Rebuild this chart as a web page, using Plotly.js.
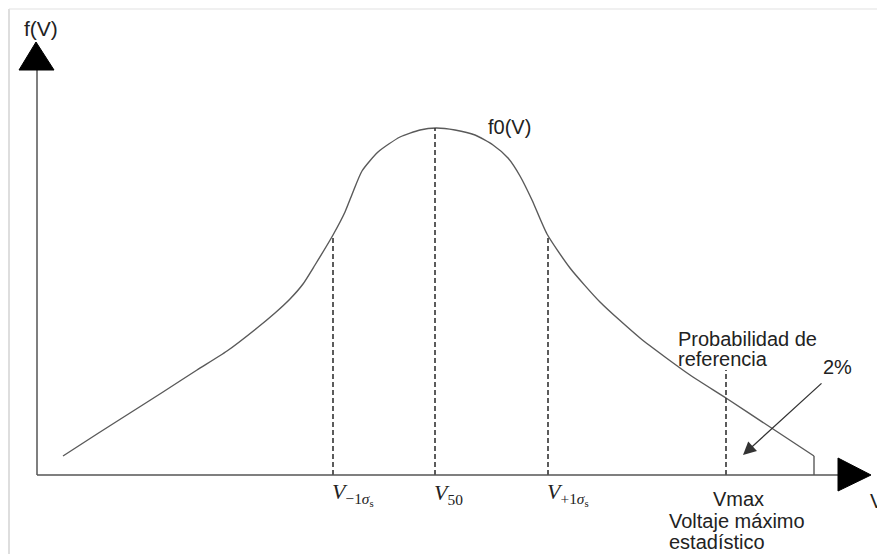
<!DOCTYPE html>
<html>
<head>
<meta charset="utf-8">
<script src="https://cdn.plot.ly/plotly-3.0.1.min.js"></script>
<style>html,body{margin:0;padding:0;background:#fff;}#chart{width:877px;height:554px;}</style>
</head>
<body>
<div id="chart"></div>
<script>
// Curve f0(V) (V and f in drawing units; origin at the axes' corner)
const curveV = [26, 60, 93, 126, 160, 190, 220, 238, 253, 266, 278, 296, 308, 316, 325, 341, 363, 383, 399, 418, 438, 456, 471, 483, 495, 510, 533, 563, 603, 653, 689, 733, 777];
const curveF = [19, 41, 62, 83, 105, 124, 147, 162, 176, 191, 210, 240, 263, 283, 304, 323, 338, 345, 347, 345, 340, 330, 317, 299, 275, 241, 207, 173, 137, 100, 77, 48, 19];
// vertical drop at the end of the curve
const tailV = [777, 777];
const tailF = [19, 0];
// reference voltages (dashed lines) and the height each dashed line reaches
const refV = [296, 398, 511, 689];
const refTop = [240, 347, 239, 105];
const refLabels = ["<i>V</i><sub>−1<i>σ</i><sub>s</sub></sub>", "<i>V</i><sub>50</sub>", "<i>V</i><sub>+1<i>σ</i><sub>s</sub></sub>"];
const axisLenV = 801, axisLenF = 405;

const traces = [];
traces.push({x: curveV, y: curveF, mode: 'lines', line: {color: '#5a5a5a', width: 1.4, shape: 'spline', smoothing: 0.6}, hoverinfo: 'skip'});
traces.push({x: tailV, y: tailF, mode: 'lines', line: {color: '#5a5a5a', width: 1.4}, hoverinfo: 'skip'});
refV.forEach((v, i) => {
  traces.push({x: [v, v], y: [0, refTop[i]], mode: 'lines', line: {color: '#333', width: 1.6, dash: '5px,3px'}, hoverinfo: 'skip'});
});

const shapes = [
  // frame of the picture
  {type: 'line', xref: 'x', yref: 'y', x0: -28, y0: 466, x1: -28, y1: -80, line: {color: '#c8c8c8', width: 1.2}},
  {type: 'line', xref: 'x', yref: 'y', x0: -28, y0: 466, x1: 841, y1: 466, line: {color: '#e2e2e2', width: 1.2}},
  // axes
  {type: 'line', xref: 'x', yref: 'y', x0: 0, y0: 0, x1: 0, y1: axisLenF, line: {color: '#555', width: 1.5}},
  {type: 'line', xref: 'x', yref: 'y', x0: 0, y0: 0, x1: axisLenV, y1: 0, line: {color: '#555', width: 1.5}},
  // arrowheads
  {type: 'path', xref: 'x', yref: 'y', path: 'M -18 405 L 17 405 L -1 433 Z', fillcolor: '#000', line: {color: '#000', width: 1}},
  {type: 'path', xref: 'x', yref: 'y', path: 'M 801 17 L 801 -16 L 834 0 Z', fillcolor: '#000', line: {color: '#000', width: 1}}
];

const txt = '#222';
const sans = 'Liberation Sans, Arial, sans-serif';
const fs = 20;
const annotations = [
  {x: 4, y: 447, text: 'f(V)', showarrow: false, xanchor: 'center', yanchor: 'middle', font: {family: sans, size: 21, color: txt}},
  {x: 449, y: 348, text: 'f0(V)', showarrow: false, xanchor: 'left', yanchor: 'middle', font: {family: sans, size: fs, color: txt}},
  {x: 831, y: -26, text: 'V', showarrow: false, xanchor: 'left', yanchor: 'middle', font: {family: sans, size: fs, color: txt}},
  {x: 639, y: 136, text: 'Probabilidad de', showarrow: false, xanchor: 'left', yanchor: 'middle', font: {family: sans, size: fs, color: txt}},
  {x: 639, y: 116, text: 'referencia', showarrow: false, xanchor: 'left', yanchor: 'middle', font: {family: sans, size: fs, color: txt}},
  {x: 784, y: 108, text: '2%', showarrow: false, xanchor: 'left', yanchor: 'middle', font: {family: sans, size: fs, color: txt}},
  {x: 706, y: 20, ax: 786, ay: 93, axref: 'x', ayref: 'y', text: '', showarrow: true, arrowhead: 2, arrowsize: 2, arrowwidth: 1.3, arrowcolor: '#333'},
  {x: 674, y: -24, text: 'Vmax', showarrow: false, xanchor: 'left', yanchor: 'middle', font: {family: sans, size: fs, color: txt}},
  {x: 630, y: -46, text: 'Voltaje máximo', showarrow: false, xanchor: 'left', yanchor: 'middle', font: {family: sans, size: fs, color: txt}},
  {x: 630, y: -67, text: 'estadístico', showarrow: false, xanchor: 'left', yanchor: 'middle', font: {family: sans, size: fs, color: txt}}
];
refLabels.forEach((t, i) => {
  annotations.push({x: refV[i] - 3, y: -19, text: t, showarrow: false, xanchor: 'left', yanchor: 'middle', font: {family: 'Liberation Serif, DejaVu Serif, serif', size: 22, color: txt}});
});

const layout = {
  width: 877, height: 554,
  margin: {l: 0, r: 0, t: 0, b: 0},
  paper_bgcolor: '#fff', plot_bgcolor: '#fff',
  showlegend: false,
  xaxis: {range: [-37, 840], visible: false, fixedrange: true},
  yaxis: {range: [-79, 475], visible: false, fixedrange: true},
  shapes: shapes,
  annotations: annotations
};
Plotly.newPlot('chart', traces, layout, {displayModeBar: false, staticPlot: true});
</script>
</body>
</html>
